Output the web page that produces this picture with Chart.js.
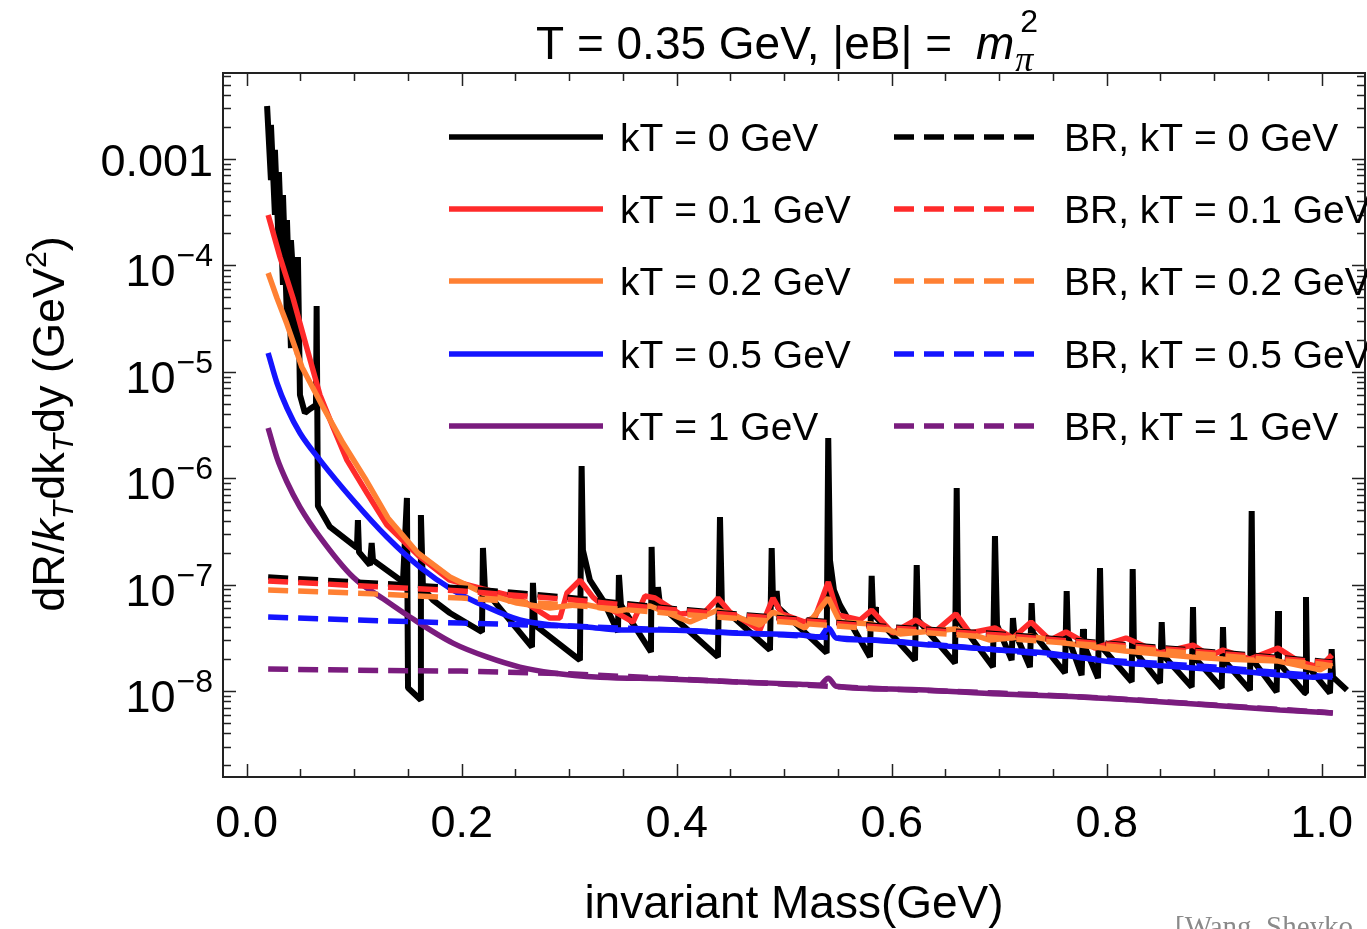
<!DOCTYPE html>
<html>
<head>
<meta charset="utf-8">
<script src="https://cdn.jsdelivr.net/npm/chart.js@4.4.1/dist/chart.umd.min.js"></script>
<style>
  html, body { margin: 0; padding: 0; background: #fff; }
</style>
</head>
<body>
<canvas id="chart" width="1367" height="929"></canvas>
<script>
// kT = 0 GeV, full sawtooth with Landau-level thresholds
const blackMass = [
  0.0190, 0.0226, 0.0226, 0.0263, 0.0263, 0.0300, 0.0300, 0.0338, 0.0338, 0.0375,
  0.0375, 0.0412, 0.0412, 0.0477, 0.0477, 0.0496, 0.0542, 0.0589, 0.0645, 0.0651,
  0.0663, 0.0775, 0.1026, 0.1035, 0.1045, 0.1147, 0.1163, 0.1175, 0.1454, 0.1491,
  0.1501, 0.1621, 0.1621, 0.1640, 0.1733, 0.1891, 0.2189, 0.2198, 0.2217, 0.2654,
  0.2663, 0.2682, 0.3100, 0.3116, 0.3128, 0.3193, 0.3314, 0.3454, 0.3463, 0.3482,
  0.3761, 0.3767, 0.3779, 0.3817, 0.3826, 0.3845, 0.4384, 0.4403, 0.4421, 0.4868,
  0.4884, 0.4896, 0.4924, 0.4930, 0.4942, 0.5395, 0.5410, 0.5426, 0.5463, 0.5519,
  0.5798, 0.5814, 0.5826, 0.5840, 0.5845, 0.5854, 0.6217, 0.6233, 0.6245, 0.6589,
  0.6605, 0.6617, 0.6942, 0.6961, 0.6980, 0.7116, 0.7128, 0.7138, 0.7286, 0.7302,
  0.7314, 0.7612, 0.7628, 0.7640, 0.7767, 0.7780, 0.7789, 0.7919, 0.7938, 0.7953,
  0.8233, 0.8242, 0.8254, 0.8496, 0.8512, 0.8524, 0.8791, 0.8803, 0.8812, 0.9070,
  0.9082, 0.9091, 0.9333, 0.9349, 0.9361, 0.9581, 0.9594, 0.9603, 0.9845, 0.9854,
  0.9863, 1.0077, 1.0093, 1.0105, 1.0235
]
const blackRate = [
  3.15e-3, 6.35e-4, 2.09e-3, 2.98e-4, 1.22e-3, 1.40e-4, 7.55e-4, 6.55e-5, 4.59e-4, 3.21e-5,
  2.67e-4, 1.67e-5, 1.73e-4, 1.44e-5, 1.20e-4, 6.05e-6, 4.10e-6, 4.47e-6, 4.88e-6, 4.15e-5,
  5.48e-7, 3.48e-7, 2.21e-7, 4.05e-7, 2.02e-7, 1.53e-7, 2.46e-7, 1.70e-7, 1.06e-7, 6.52e-7,
  1.07e-8, 8.23e-9, 4.51e-7, 9.29e-8, 7.16e-8, 5.41e-8, 3.59e-8, 2.21e-7, 8.89e-8, 2.59e-8,
  1.04e-7, 4.17e-8, 1.95e-8, 1.30e-6, 2.11e-7, 1.10e-7, 7.16e-8, 3.59e-8, 1.23e-7, 6.43e-8,
  2.33e-8, 2.26e-7, 7.16e-8, 6.15e-8, 9.48e-8, 6.43e-8, 2.09e-8, 4.32e-7, 6.15e-8, 2.43e-8,
  2.21e-7, 7.16e-8, 6.43e-8, 8.71e-8, 6.15e-8, 2.28e-8, 2.39e-6, 1.70e-7, 8.89e-8, 6.43e-8,
  2.09e-8, 1.21e-7, 5.53e-8, 5.30e-8, 6.15e-8, 4.96e-8, 1.95e-8, 1.53e-7, 4.65e-8, 1.83e-8,
  8.09e-7, 4.65e-8, 1.68e-8, 2.86e-7, 4.17e-8, 1.95e-8, 4.85e-8, 3.74e-8, 1.68e-8, 6.71e-8,
  3.51e-8, 1.48e-8, 8.71e-8, 3.22e-8, 1.41e-8, 3.83e-8, 2.70e-8, 1.32e-8, 1.43e-7, 2.59e-8,
  1.22e-8, 1.40e-7, 2.43e-8, 1.19e-8, 4.45e-8, 2.18e-8, 1.09e-8, 6.15e-8, 2.09e-8, 1.07e-8,
  4.00e-8, 1.95e-8, 1.02e-8, 4.92e-7, 1.95e-8, 9.79e-9, 5.65e-8, 1.83e-8, 9.57e-9, 7.64e-8,
  1.75e-8, 9.57e-9, 2.48e-8, 1.35e-8, 1.02e-8
]

const redMass = [
  0.020, 0.031, 0.0431, 0.0552, 0.0682, 0.0803, 0.0933, 0.1119, 0.1305, 0.1612,
  0.1891, 0.2198, 0.2514, 0.2821, 0.2914, 0.2980, 0.3100, 0.3221, 0.3287, 0.3594,
  0.3705, 0.3799, 0.4031, 0.4263, 0.4384, 0.4495, 0.4774, 0.4896, 0.4979, 0.5193,
  0.5288, 0.5410, 0.5502, 0.5705, 0.5814, 0.6010, 0.6224, 0.6402, 0.6598, 0.6728,
  0.6961, 0.7128, 0.7296, 0.7472, 0.7621, 0.7891, 0.8180, 0.8496, 0.8803, 0.8962,
  0.9082, 0.9333, 0.9594, 0.9799, 0.9985, 1.0096
]
const redRate = [
  2.98e-4, 1.20e-4, 4.94e-5, 1.79e-5, 6.05e-6, 3.03e-6, 1.48e-6, 7.26e-7, 3.63e-7, 1.82e-7,
  1.10e-7, 9.09e-8, 7.64e-8, 4.85e-8, 4.85e-8, 8.34e-8, 1.10e-7, 7.64e-8, 6.71e-8, 4.45e-8,
  7.81e-8, 7.48e-8, 5.30e-8, 5.53e-8, 7.48e-8, 5.53e-8, 3.74e-8, 7.48e-8, 5.30e-8, 4.45e-8,
  4.96e-8, 1.06e-7, 5.18e-8, 4.65e-8, 5.77e-8, 3.51e-8, 4.65e-8, 3.59e-8, 5.30e-8, 3.51e-8,
  3.91e-8, 3.15e-8, 4.45e-8, 3.01e-8, 3.59e-8, 2.53e-8, 3.15e-8, 2.28e-8, 2.70e-8, 2.13e-8,
  2.43e-8, 2.00e-8, 2.53e-8, 1.87e-8, 1.68e-8, 2.18e-8
]

const orangeMass = [
  0.020, 0.0282, 0.0375, 0.0514, 0.0700, 0.0896, 0.1100, 0.1314, 0.1593, 0.1891,
  0.2198, 0.2514, 0.2821, 0.3128, 0.3445, 0.3752, 0.4124, 0.4384, 0.4774, 0.4896,
  0.5193, 0.5410, 0.5519, 0.5814, 0.6077, 0.6589, 0.6914, 0.7286, 0.7612, 0.8170,
  0.8791, 0.9082, 0.9594, 0.9985, 1.0096
]
const orangeRate = [
  8.49e-5, 4.94e-5, 2.81e-5, 1.11e-5, 4.88e-6, 2.14e-6, 1.00e-6, 4.23e-7, 1.98e-7, 1.18e-7,
  8.34e-8, 6.71e-8, 6.02e-8, 6.57e-8, 5.65e-8, 6.29e-8, 4.45e-8, 5.77e-8, 4.17e-8, 5.53e-8,
  3.91e-8, 7.48e-8, 4.45e-8, 4.26e-8, 3.44e-8, 3.83e-8, 3.01e-8, 3.29e-8, 2.82e-8, 2.38e-8,
  2.09e-8, 2.00e-8, 1.91e-8, 1.58e-8, 1.83e-8
]

const blueMass = [
  0.020, 0.0282, 0.0375, 0.0496, 0.0682, 0.0989, 0.1305, 0.1612, 0.1919, 0.2235,
  0.2542, 0.2849, 0.3166, 0.3473, 0.3910, 0.4526, 0.5147, 0.5333, 0.5410, 0.5484,
  0.5770, 0.6384, 0.7008, 0.7445, 0.8059, 0.8682, 0.9305, 0.9919, 1.0105
]
const blueRate = [
  1.50e-5, 7.85e-6, 4.57e-6, 2.66e-6, 1.48e-6, 6.24e-7, 2.80e-7, 1.46e-7, 8.89e-8, 6.15e-8,
  4.65e-8, 4.17e-8, 4.00e-8, 3.74e-8, 3.74e-8, 3.51e-8, 3.36e-8, 3.22e-8, 3.91e-8, 3.15e-8,
  3.01e-8, 2.70e-8, 2.43e-8, 2.28e-8, 1.87e-8, 1.68e-8, 1.51e-8, 1.35e-8, 1.41e-8
]

const purpleMass = [
  0.020, 0.0282, 0.0375, 0.0496, 0.0682, 0.0989, 0.1287, 0.1519, 0.1919, 0.2235,
  0.2542, 0.2849, 0.3287, 0.3910, 0.4526, 0.5147, 0.5333, 0.5410, 0.5484, 0.6077,
  0.7008, 0.7752, 0.8682, 0.9612, 1.0105
]
const purpleRate = [
  2.96e-6, 1.55e-6, 9.21e-7, 5.36e-7, 2.80e-7, 1.18e-7, 7.16e-8, 4.96e-8, 2.82e-8, 2.09e-8,
  1.68e-8, 1.48e-8, 1.35e-8, 1.30e-8, 1.22e-8, 1.16e-8, 1.14e-8, 1.32e-8, 1.11e-8, 1.04e-8,
  9.37e-9, 8.79e-9, 7.71e-9, 6.62e-9, 6.21e-9
]

// BR (dashed) curves share one mass grid
const brMass = [0.02, 0.1, 0.2, 0.3, 0.4, 0.5, 0.6, 0.7, 0.8, 0.9, 1.0, 1.01]
const brBlack = [1.18e-7, 1.06e-7, 9.29e-8, 7.57e-8, 5.90e-8, 4.85e-8, 4.00e-8, 3.44e-8, 2.82e-8, 2.33e-8, 1.91e-8, 1.87e-8]
const brRed = [1.08e-7, 9.82e-8, 8.71e-8, 7.24e-8, 5.77e-8, 4.75e-8, 3.91e-8, 3.36e-8, 2.76e-8, 2.28e-8, 1.87e-8, 1.83e-8]
const brOrange = [8.89e-8, 8.34e-8, 7.48e-8, 6.43e-8, 5.30e-8, 4.45e-8, 3.74e-8, 3.15e-8, 2.65e-8, 2.18e-8, 1.79e-8, 1.72e-8]
const brBlue = [4.96e-8, 4.65e-8, 4.35e-8, 4.08e-8, 3.74e-8, 3.36e-8, 2.95e-8, 2.43e-8, 1.95e-8, 1.68e-8, 1.38e-8, 1.35e-8]
const brPurple = [1.61e-8, 1.57e-8, 1.54e-8, 1.45e-8, 1.30e-8, 1.16e-8, 1.04e-8, 9.57e-9, 8.59e-9, 7.38e-9, 6.34e-9, 6.21e-9]

const kTLabels = ['0', '0.1', '0.2', '0.5', '1']
const xTickValues = [0, 0.2, 0.4, 0.6, 0.8, 1.0]
const xTickLabels = ['0.0', '0.2', '0.4', '0.6', '0.8', '1.0']
const yTickExponents = [-3, -4, -5, -6, -7, -8]

const SANS = '"Liberation Sans", Arial, Helvetica, sans-serif'
const colors = ['#000000', '#ff2a2a', '#ff8033', '#1414ff', '#7a1c7e']

const pts = (xs, ys) => xs.map((v, i) => ({ x: v, y: ys[i] }))

const solid = [
  [blackMass, blackRate], [redMass, redRate], [orangeMass, orangeRate],
  [blueMass, blueRate], [purpleMass, purpleRate]
]
const dashed = [brBlack, brRed, brOrange, brBlue, brPurple]

const datasets = []
solid.forEach(([m, r], i) => {
  // blue and purple are smooth enough for a spline, the rest keep sharp corners
  const smooth = i >= 3
  datasets.push({
    label: `kT = ${kTLabels[i]} GeV`,
    data: pts(m, r),
    borderColor: colors[i],
    borderWidth: i === 0 ? 6 : 5.5,
    cubicInterpolationMode: smooth ? 'monotone' : 'default',
    tension: smooth ? 0.4 : 0,
    order: 10 - i
  })
})
dashed.forEach((r, i) => {
  datasets.push({
    label: `BR, kT = ${kTLabels[i]} GeV`,
    data: pts(brMass, r),
    borderColor: colors[i],
    borderWidth: 5.5,
    borderDash: [20, 10],
    order: 5 - i
  })
})

// draw several font runs one after another, returns end x
const drawRuns = (ctx, runs, x, y) => {
  for (const r of runs) {
    ctx.font = r.font
    ctx.fillText(r.t, x, y + (r.dy || 0))
    x += ctx.measureText(r.t).width + (r.gap || 0)
  }
  return x
}
const runsWidth = (ctx, runs) => runs.reduce((w, r) => {
  ctx.font = r.font
  return w + ctx.measureText(r.t).width + (r.gap || 0)
}, 0)

const decor = {
  id: 'decor',
  afterDraw(chart) {
    const { ctx, chartArea: a } = chart
    const xs = chart.scales.x
    const ys = chart.scales.y
    ctx.save()

    // frame
    ctx.strokeStyle = '#222'
    ctx.lineWidth = 2
    ctx.setLineDash([])
    ctx.strokeRect(a.left, a.top, a.right - a.left, a.bottom - a.top)

    // x ticks, every 0.05, long every 0.2
    ctx.lineWidth = 1.5
    for (let i = 0; i <= 20; i++) {
      const px = Math.round(xs.getPixelForValue(i * 0.05)) + 0.5
      const len = i % 4 === 0 ? 13 : 8
      ctx.beginPath()
      ctx.moveTo(px, a.bottom); ctx.lineTo(px, a.bottom - len)
      ctx.moveTo(px, a.top); ctx.lineTo(px, a.top + len)
      ctx.stroke()
    }
    // y ticks, log minors
    for (let k = -9; k <= -2; k++) {
      for (let m = 1; m <= 9; m++) {
        const v = m * Math.pow(10, k)
        if (v < ys.min || v > ys.max) continue
        const py = Math.round(ys.getPixelForValue(v)) + 0.5
        const len = m === 1 ? 13 : 8
        ctx.beginPath()
        ctx.moveTo(a.left, py); ctx.lineTo(a.left + len, py)
        ctx.moveTo(a.right, py); ctx.lineTo(a.right - len, py)
        ctx.stroke()
      }
    }

    ctx.fillStyle = '#000'
    // x tick labels
    ctx.font = `45px ${SANS}`
    ctx.textAlign = 'center'
    ctx.textBaseline = 'alphabetic'
    xTickValues.forEach((v, i) => {
      ctx.fillText(xTickLabels[i], xs.getPixelForValue(v), 837)
    })

    // y tick labels
    ctx.textAlign = 'right'
    yTickExponents.forEach((e) => {
      const py = ys.getPixelForValue(Math.pow(10, e))
      if (e === -3) {
        ctx.font = `45px ${SANS}`
        ctx.fillText('0.001', 213, py + 17)
      } else {
        ctx.font = `32px ${SANS}`
        const sup = '\u2212' + Math.abs(e)
        ctx.fillText(sup, 213, py + 1)
        const w = ctx.measureText(sup).width
        ctx.font = `45px ${SANS}`
        ctx.fillText('10', 213 - w - 1, py + 21)
      }
    })

    // x axis title
    ctx.textAlign = 'center'
    ctx.font = `46px ${SANS}`
    ctx.fillText('invariant Mass(GeV)', 794, 918)

    // main title
    ctx.textAlign = 'left'
    ctx.font = `46px ${SANS}`
    ctx.fillText('T = 0.35 GeV, |eB| =', 536, 59)
    const tEnd = 536 + ctx.measureText('T = 0.35 GeV, |eB| =').width
    ctx.font = `italic 46px ${SANS}`
    const mx = tEnd + 24
    ctx.fillText('m', mx, 59)
    const px0 = mx + ctx.measureText('m').width + 1
    ctx.font = `italic 36px "Liberation Serif", serif`
    ctx.fillText('\u03c0', px0, 71)
    ctx.font = `32px ${SANS}`
    ctx.fillText('2', px0 + 5, 32)

    // y axis title, rotated
    const yRuns = [
      { t: 'dR/', font: `45px ${SANS}` },
      { t: 'k', font: `italic 45px ${SANS}` },
      { t: 'T', font: `italic 30px ${SANS}`, dy: 9, gap: 1 },
      { t: 'dk', font: `45px ${SANS}` },
      { t: 'T', font: `italic 30px ${SANS}`, dy: 9, gap: 1 },
      { t: 'dy (GeV', font: `45px ${SANS}` },
      { t: '2', font: `30px ${SANS}`, dy: -18 },
      { t: ')', font: `45px ${SANS}` }
    ]
    ctx.save()
    ctx.translate(64, 424)
    ctx.rotate(-Math.PI / 2)
    drawRuns(ctx, yRuns, -runsWidth(ctx, yRuns) / 2, 0)
    ctx.restore()

    // legend: two columns, five rows
    const rowY = [137, 209, 281, 354, 426]
    const ds = chart.data.datasets
    ctx.font = `39px ${SANS}`
    for (let i = 0; i < 5; i++) {
      const y = rowY[i]
      const s = ds[i]
      const d = ds[i + 5]
      ctx.lineWidth = 5.5
      ctx.strokeStyle = s.borderColor
      ctx.setLineDash([])
      ctx.beginPath(); ctx.moveTo(449, y); ctx.lineTo(603, y); ctx.stroke()
      ctx.fillText(s.label, 620, y + 14)
      ctx.strokeStyle = d.borderColor
      ctx.setLineDash([20, 10])
      ctx.beginPath(); ctx.moveTo(894, y); ctx.lineTo(1036, y); ctx.stroke()
      ctx.fillText(d.label, 1064, y + 14)
    }
    ctx.setLineDash([])

    // citation remnant at the bottom edge
    ctx.fillStyle = '#8a8a8a'
    ctx.font = `29px "Liberation Serif", serif`
    ctx.fillText('[Wang, Sheyko', 1175, 936)

    ctx.restore()
  }
}

new Chart(document.getElementById('chart'), {
  type: 'line',
  data: { datasets },
  options: {
    responsive: false,
    animation: false,
    devicePixelRatio: 1,
    events: [],
    layout: { padding: { left: 223, top: 73, right: 2, bottom: 152 } },
    elements: {
      point: { radius: 0, hoverRadius: 0 },
      line: { borderWidth: 5, tension: 0, fill: false, borderJoinStyle: 'bevel' }
    },
    plugins: {
      legend: { display: false },
      title: { display: false },
      tooltip: { enabled: false }
    },
    scales: {
      x: { type: 'linear', min: -0.0220, max: 1.0403, display: false },
      y: { type: 'logarithmic', min: 1.556e-9, max: 6.43e-3, display: false }
    }
  },
  plugins: [decor]
})
</script>
</body>
</html>
